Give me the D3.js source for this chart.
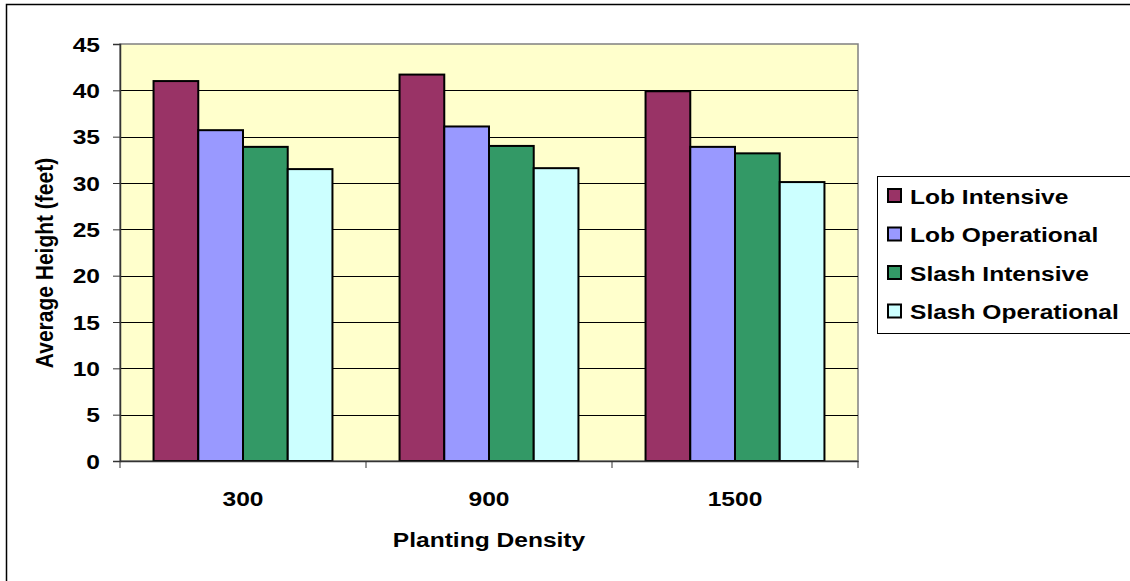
<!DOCTYPE html>
<html>
<head>
<meta charset="utf-8">
<script src="https://cdn.jsdelivr.net/npm/d3@7"></script>
<style>
  html, body { margin: 0; padding: 0; background: #fff; }
  svg { display: block; }
  text { font-family: Arial, "Liberation Sans", sans-serif; font-weight: bold; fill: #000; }
</style>
</head>
<body>
<svg id="chart" width="1130" height="581"></svg>
<script>
// Planting densities (trees per acre) on the category axis
const categories = ["300", "900", "1500"];
// Series names and their fills
const seriesNames = ["Lob Intensive", "Lob Operational", "Slash Intensive", "Slash Operational"];
const seriesColors = ["#993366", "#9999FF", "#339966", "#CCFFFF"];
// Average height (feet) per series, in category order
const lobIntensive = [41.0, 41.7, 39.9];
const lobOperational = [35.7, 36.1, 33.9];
const slashIntensive = [33.9, 34.0, 33.2];
const slashOperational = [31.5, 31.6, 30.1];
const yTicks = [0, 5, 10, 15, 20, 25, 30, 35, 40, 45];

const seriesValues = [lobIntensive, lobOperational, slashIntensive, slashOperational];
const rows = categories.map((c, i) => ({
  category: c,
  values: seriesNames.map((s, j) => ({ series: s, value: seriesValues[j][i], color: seriesColors[j] }))
}));

const svg = d3.select("#chart");
const plot = { left: 120, right: 858, top: 44, bottom: 461 };
const stretch = 1.17;   // text is drawn slightly wide
const fontSize = 21;

// outer chart frame
svg.append("rect")
  .attr("x", 6.5).attr("y", 4.5).attr("width", 1200).attr("height", 700)
  .attr("fill", "#fff").attr("stroke", "#000").attr("stroke-width", 1.5);

const x0 = d3.scaleBand().domain(categories).range([plot.left, plot.right]).paddingInner(0).paddingOuter(0);
const x1 = d3.scaleBand().domain(seriesNames).range([0, x0.bandwidth()]).paddingInner(0).paddingOuter(0.75);
const y = d3.scaleLinear().domain([0, 45]).range([plot.bottom, plot.top]);

// plot area background
svg.append("rect")
  .attr("x", plot.left).attr("y", plot.top)
  .attr("width", plot.right - plot.left).attr("height", plot.bottom - plot.top)
  .attr("fill", "#FFFFCC").attr("stroke", "#808080").attr("stroke-width", 1.5);

// horizontal gridlines
svg.append("g").selectAll("line")
  .data(yTicks.filter(t => t > 0 && t < 45))
  .join("line")
  .attr("x1", plot.left).attr("x2", plot.right)
  .attr("y1", d => Math.round(y(d)) + 0.5).attr("y2", d => Math.round(y(d)) + 0.5)
  .attr("stroke", "#000").attr("stroke-width", 1);

// bars
svg.append("g").selectAll("g")
  .data(rows)
  .join("g")
  .attr("transform", d => `translate(${x0(d.category)},0)`)
  .selectAll("rect")
  .data(d => d.values)
  .join("rect")
  .attr("x", d => x1(d.series))
  .attr("y", d => y(d.value))
  .attr("width", x1.bandwidth())
  .attr("height", d => y(0) - y(d.value))
  .attr("fill", d => d.color)
  .attr("stroke", "#000").attr("stroke-width", 2);

// y axis
const yAxis = svg.append("g")
  .attr("transform", `translate(${plot.left},0)`)
  .call(d3.axisLeft(y).tickValues(yTicks).tickSize(7).tickPadding(0).tickFormat(""));
yAxis.select(".domain").attr("stroke", "#333").attr("stroke-width", 1.5);
yAxis.selectAll(".tick line").attr("stroke", "#333");

svg.append("g").selectAll("text")
  .data(yTicks)
  .join("text")
  .attr("transform", d => `translate(100,${y(d) + 7.5}) scale(${stretch},1)`)
  .attr("text-anchor", "end")
  .style("font-size", fontSize + "px")
  .text(d => d);

// x axis
const xAxis = svg.append("g")
  .attr("transform", `translate(0,${plot.bottom})`)
  .call(d3.axisBottom(x0).tickSize(0).tickFormat(""));
xAxis.select(".domain").attr("stroke", "#333").attr("stroke-width", 1.5);

// category separators below the axis
const bounds = categories.map(c => x0(c)).concat([plot.right]);
svg.append("g").selectAll("line")
  .data(bounds)
  .join("line")
  .attr("x1", d => d).attr("x2", d => d)
  .attr("y1", plot.bottom).attr("y2", plot.bottom + 7)
  .attr("stroke", "#333").attr("stroke-width", 1);

svg.append("g").selectAll("text")
  .data(categories)
  .join("text")
  .attr("transform", d => `translate(${x0(d) + x0.bandwidth() / 2},506) scale(${stretch},1)`)
  .attr("text-anchor", "middle")
  .style("font-size", fontSize + "px")
  .text(d => d);

// axis titles
svg.append("text")
  .attr("transform", `translate(${(plot.left + plot.right) / 2},547) scale(${stretch},1)`)
  .attr("text-anchor", "middle")
  .style("font-size", fontSize + "px")
  .text("Planting Density");

svg.append("text")
  .attr("transform", `translate(53,263) scale(${stretch},1) rotate(-90)`)
  .attr("text-anchor", "middle")
  .style("font-size", fontSize + "px")
  .text("Average Height (feet)");

// legend
const legend = svg.append("g");
legend.append("rect")
  .attr("x", 877.5).attr("y", 176.5).attr("width", 400).attr("height", 157)
  .attr("fill", "#fff").attr("stroke", "#000").attr("stroke-width", 1);

const item = legend.selectAll("g.item")
  .data(seriesNames)
  .join("g")
  .attr("class", "item")
  .attr("transform", (d, i) => `translate(0,${196 + i * 38.5})`);

item.append("rect")
  .attr("x", 888).attr("y", -7).attr("width", 13).attr("height", 13)
  .attr("fill", (d, i) => seriesColors[i])
  .attr("stroke", "#000").attr("stroke-width", 2);

item.append("text")
  .attr("transform", `translate(910,7.5) scale(${stretch},1)`)
  .style("font-size", fontSize + "px")
  .text(d => d);
</script>
</body>
</html>
